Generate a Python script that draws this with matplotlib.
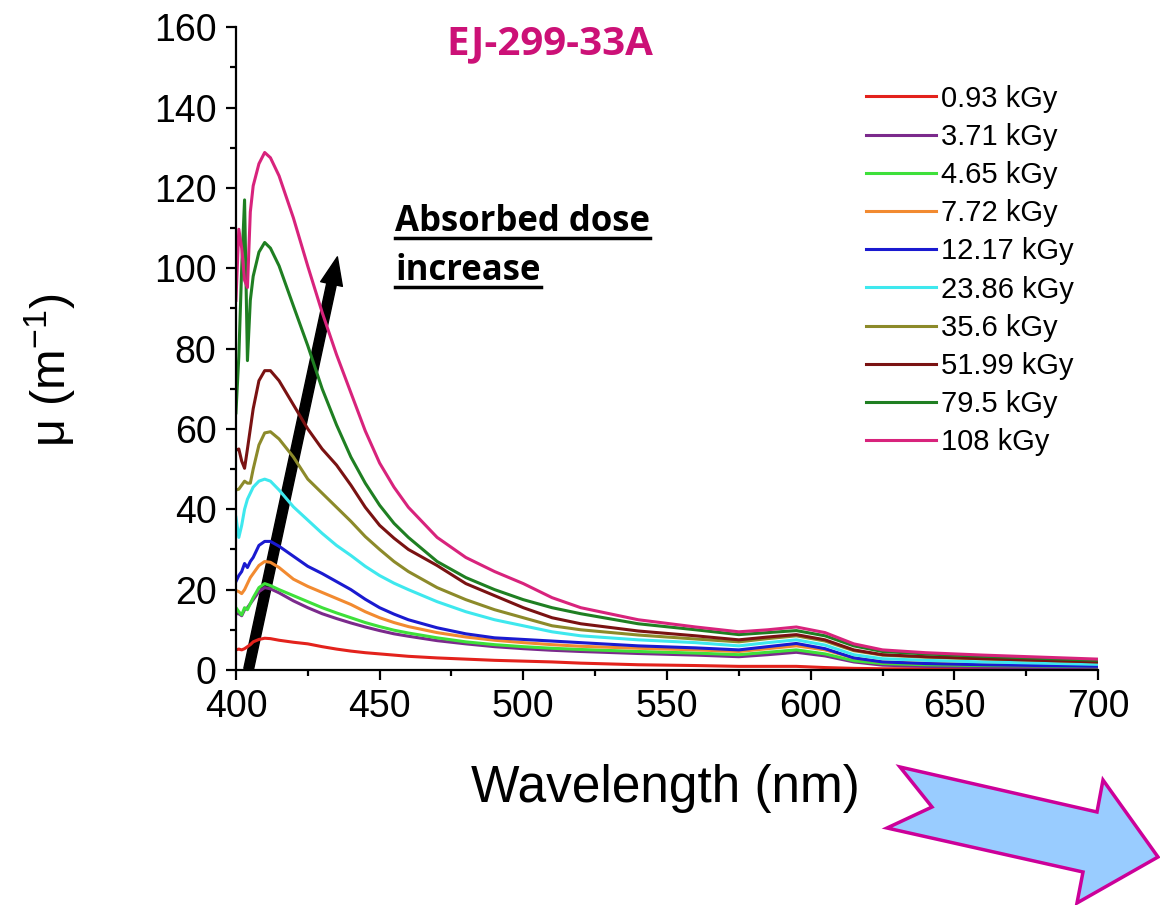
import numpy as np
import matplotlib
matplotlib.use('Agg')
import matplotlib.pyplot as plt
from matplotlib.patches import FancyArrowPatch, Polygon
from matplotlib.ticker import MultipleLocator

plt.rcParams['font.family'] = ['Liberation Sans', 'DejaVu Sans']
plt.rcParams['mathtext.fontset'] = 'custom'
plt.rcParams['mathtext.rm'] = 'Liberation Sans'
plt.rcParams['mathtext.it'] = 'Liberation Sans'

# wavelength grid (nm)
wl = [400, 401, 402, 403, 404, 405, 406, 408, 410, 412, 415, 420, 425, 430, 435, 440,
      445, 450, 455, 460, 470, 480, 490, 500, 510, 520, 540, 560, 575, 585, 595, 605,
      615, 625, 640, 660, 680, 700]

labels = ['0.93 kGy', '3.71 kGy', '4.65 kGy', '7.72 kGy', '12.17 kGy',
          '23.86 kGy', '35.6 kGy', '51.99 kGy', '79.5 kGy', '108 kGy']
colors = ['#e3221c', '#7b2a8c', '#3ee03a', '#f28a30', '#1a1ad0',
          '#3ee8ee', '#8c8a2a', '#7a1212', '#1f7f22', '#d8237c']

mu_093 = [5, 5.2, 5, 5.3, 5.8, 6.3, 7, 7.6, 7.9, 7.8, 7.4, 6.9, 6.5, 5.8, 5.2, 4.7,
          4.3, 4, 3.7, 3.4, 3, 2.7, 2.4, 2.2, 2, 1.7, 1.3, 1.1, 0.9, 0.9, 0.9, 0.6,
          0.4, 0.3, 0.3, 0.3, 0.3, 0.3]
mu_371 = [14, 14, 13.5, 15, 15.5, 16.5, 17.5, 19.5, 20.5, 20.2, 19.2, 17.2, 15.5, 14, 12.8, 11.7,
          10.7, 9.8, 9.0, 8.4, 7.3, 6.5, 5.8, 5.3, 4.9, 4.6, 4.1, 3.7, 3.3, 3.8, 4.4, 3.5,
          2, 1.2, 0.9, 0.7, 0.6, 0.5]
mu_465 = [15.5, 14.5, 13.7, 15.5, 15, 16.5, 18, 20.5, 21.5, 21, 20, 18.5, 17, 15.5, 14.2, 13,
          11.8, 10.8, 9.9, 9.2, 8, 7, 6.3, 5.8, 5.4, 5.1, 4.6, 4.2, 3.8, 4.4, 5, 4,
          2.3, 1.6, 1.3, 1.1, 1, 0.8]
mu_772 = [19.8, 19.5, 19, 20, 21.5, 23, 24, 26, 27, 26.8, 25.5, 22.6, 20.8, 19.3, 17.8, 16.3,
          14.5, 13, 11.8, 10.8, 9.3, 8.2, 7.4, 6.8, 6.3, 5.9, 5.4, 5, 4.6, 5.3, 6, 5,
          3, 2, 1.7, 1.4, 1.2, 1]
mu_1217 = [22, 23.5, 24.5, 26.5, 25.5, 27, 28, 31, 32, 32, 30.8, 28.3, 25.8, 24, 22, 20,
           17.6, 15.5, 13.9, 12.5, 10.5, 9, 8, 7.6, 7.2, 6.8, 6, 5.5, 5, 5.8, 6.6, 5.3,
           3, 2, 1.6, 1.3, 1.1, 0.9]
mu_2386 = [38, 33, 36, 40, 42.5, 44, 45.5, 47, 47.5, 47, 44.8, 40.6, 37.3, 34, 31, 28.5,
           25.8, 23.5, 21.6, 20, 17, 14.5, 12.5, 11, 9.5, 8.5, 7.5, 6.8, 6, 6.8, 7.5, 6.2,
           3.8, 2.8, 2.4, 2, 1.7, 1.4]
mu_356 = [44.8, 45, 46, 47, 46.5, 46.5, 50, 56, 59, 59.3, 57.5, 53, 47.5, 44, 40.5, 37,
          33.2, 30, 27, 24.5, 20.5, 17.5, 15, 13, 11, 10, 8.7, 7.7, 7, 7.8, 8.5, 7.2,
          4.8, 3.7, 3.2, 2.8, 2.4, 2]
mu_5199 = [54.7, 55, 52, 50.2, 55, 60, 65, 72, 74.5, 74.5, 72, 66, 60, 55, 51, 46,
           40.5, 36, 32.8, 30, 26, 21.5, 18.5, 15.5, 13, 11.5, 9.7, 8.5, 7.5, 8.2, 8.8, 7.5,
           5, 3.8, 3.3, 2.8, 2.4, 2]
mu_795 = [64, 78, 100, 117, 77, 92, 98, 104, 106.4, 105, 100.6, 90.6, 80.7, 70, 61, 53,
          46.5, 41, 36.5, 33, 27, 23, 20, 17.5, 15.5, 14, 11.5, 10, 8.8, 9.3, 9.8, 8.5,
          6, 4.6, 4, 3.4, 2.9, 2.4]
mu_108 = [92, 109.7, 105, 97, 95.2, 114, 120.5, 126, 128.8, 127.5, 123, 112.5, 100.5, 89, 78.5, 69,
          59.5, 51.5, 45.5, 40.5, 33, 28, 24.5, 21.5, 18, 15.5, 12.5, 10.7, 9.5, 10, 10.7, 9.3,
          6.5, 5, 4.3, 3.7, 3.2, 2.7]

series = [mu_093, mu_371, mu_465, mu_772, mu_1217, mu_2386, mu_356, mu_5199, mu_795, mu_108]

fig = plt.figure(figsize=(11.6, 9.05), dpi=100)
ax = fig.add_axes([0.2034, 0.2597, 0.7432, 0.7103])

for y, c, lab in zip(series, colors, labels):
    ax.plot(wl, y, color=c, lw=2.2, label=lab)

ax.set_xlim(400, 700)
ax.set_ylim(0, 160)
ax.xaxis.set_major_locator(MultipleLocator(50))
ax.xaxis.set_minor_locator(MultipleLocator(25))
ax.yaxis.set_major_locator(MultipleLocator(20))
ax.yaxis.set_minor_locator(MultipleLocator(10))
ax.spines['top'].set_visible(False)
ax.spines['right'].set_visible(False)
for s in ['left', 'bottom']:
    ax.spines[s].set_linewidth(1.6)
ax.tick_params(which='major', direction='out', length=7, width=1.6, labelsize=27, pad=7)
ax.tick_params(which='minor', direction='out', length=4, width=1.6)

ax.set_xlabel('Wavelength (nm)', fontsize=37)
ax.xaxis.set_label_coords(0.4977, -0.146)
ax.set_ylabel('μ (m$^{-1}$)', fontsize=35)
ax.yaxis.set_label_coords(-0.183, 0.466)

leg = ax.legend(loc='upper left', bbox_to_anchor=(851 / 1160, 1 - 70 / 905),
                bbox_transform=fig.transFigure, frameon=False, fontsize=21,
                handlelength=2.4, handletextpad=0.17, labelspacing=0.35, borderpad=0)

# title
fig.text(550 / 1160, 1 - 44 / 905, 'EJ-299-33A', color='#cc1177', fontsize=29,
         fontweight='bold', family='Open Sans', ha='center', va='center')

# "Absorbed dose increase" annotation with underline
t1 = fig.text(395 / 1160, 1 - 222 / 905, 'Absorbed dose', fontsize=25, fontweight='bold',
              family='Open Sans', ha='left', va='center')
t2 = fig.text(395 / 1160, 1 - 271 / 905, 'increase', fontsize=25, fontweight='bold',
              family='Open Sans', ha='left', va='center')
fig.canvas.draw()
r = fig.canvas.get_renderer()
inv = fig.transFigure.inverted()
for t in (t1, t2):
    bb = t.get_window_extent(r).transformed(inv)
    yline = bb.y0 + 0.002
    fig.add_artist(plt.Line2D([bb.x0, bb.x1], [yline, yline], color='black', lw=2.5,
                              transform=fig.transFigure))

# black dose arrow
arr = FancyArrowPatch((404.2, -0.5), (435.5, 103.5),
                      arrowstyle='simple,tail_width=7,head_width=16,head_length=20',
                      mutation_scale=1, color='black', clip_on=False)
ax.add_patch(arr)

# blue block arrow (decoration)
px = [(900, 767), (932, 807), (887, 828), (1083, 872), (1077, 903),
      (1158, 857), (1103, 780), (1097, 812)]
pts = [(x / 1160, 1 - y / 905) for x, y in px]
fig.add_artist(Polygon(pts, closed=True, facecolor='#99ccff', edgecolor='#cc0099',
                       lw=2.5, transform=fig.transFigure))

fig.savefig('out.png', dpi=100)
